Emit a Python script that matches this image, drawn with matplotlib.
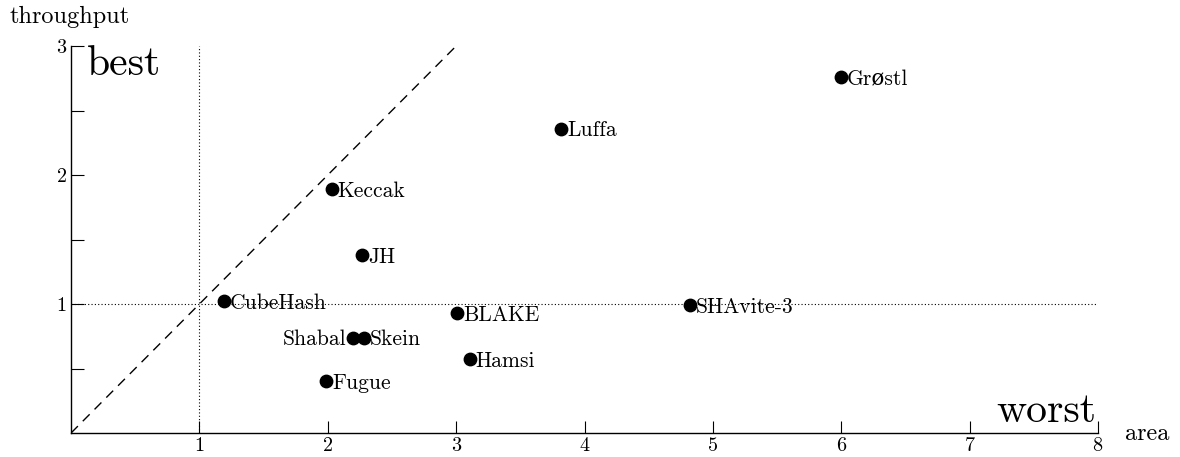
import matplotlib.pyplot as plt

plt.rcParams["font.family"] = ["cmr10", "DejaVu Serif"]
plt.rcParams["mathtext.fontset"] = "cm"
plt.rcParams["axes.formatter.use_mathtext"] = True

names = ["Grøstl", "Luffa", "Keccak", "JH", "CubeHash", "BLAKE", "SHAvite-3",
         "Shabal", "Skein", "Hamsi", "Fugue"]
area = [6.00, 3.82, 2.03, 2.27, 1.19, 3.01, 4.82, 2.20, 2.28, 3.11, 1.99]
throughput = [2.76, 2.36, 1.89, 1.38, 1.02, 0.93, 0.99, 0.74, 0.74, 0.57, 0.40]

fig = plt.figure(figsize=(11.8, 4.57), dpi=100)
ax = fig.add_axes([0.0602, 0.0525, 0.8703, 0.8468])

ax.plot([0, 3], [0, 3], color="black", lw=1, dashes=(7, 5))
ax.plot([1, 1], [0, 3], color="black", lw=0.8, ls=(0, (1, 2)))
ax.plot([0, 8], [1, 1], color="black", lw=0.8, ls=(0, (1, 2)))

ax.scatter(area, throughput, s=80, color="black", zorder=3)
for n, x, y in zip(names, area, throughput):
    if n == "Shabal":
        ax.annotate(n, (x, y), xytext=(-5, -1), textcoords="offset points",
                    ha="right", va="center", fontsize=15.5)
    else:
        ax.annotate(n, (x, y), xytext=(4, -1.5), textcoords="offset points",
                    ha="left", va="center", fontsize=15.5)

ax.set_xlim(0, 8)
ax.set_ylim(0, 3)
ax.set_xticks([1, 2, 3, 4, 5, 6, 7, 8])
ax.set_yticks([1, 2, 3])
ax.set_yticks([0.5, 1.5, 2.5], minor=True)
ax.tick_params(direction="in", length=9, labelsize=14.5, width=0.8, pad=3)
ax.tick_params(which="minor", direction="in", length=9, width=0.8)
for s in ["top", "right"]:
    ax.spines[s].set_visible(False)
ax.spines["left"].set_linewidth(1)
ax.spines["bottom"].set_linewidth(1)

ax.text(0.12, 3.0, "best", fontsize=30, ha="left", va="top")
ax.text(7.99, 0.02, "worst", fontsize=30, ha="right", va="bottom")
fig.text(0.008, 0.962, "throughput", fontsize=17.5, ha="left", va="center")
fig.text(0.953, 0.05, "area", fontsize=17.5, ha="left", va="center")

fig.savefig("out.png", dpi=100, facecolor="white")
